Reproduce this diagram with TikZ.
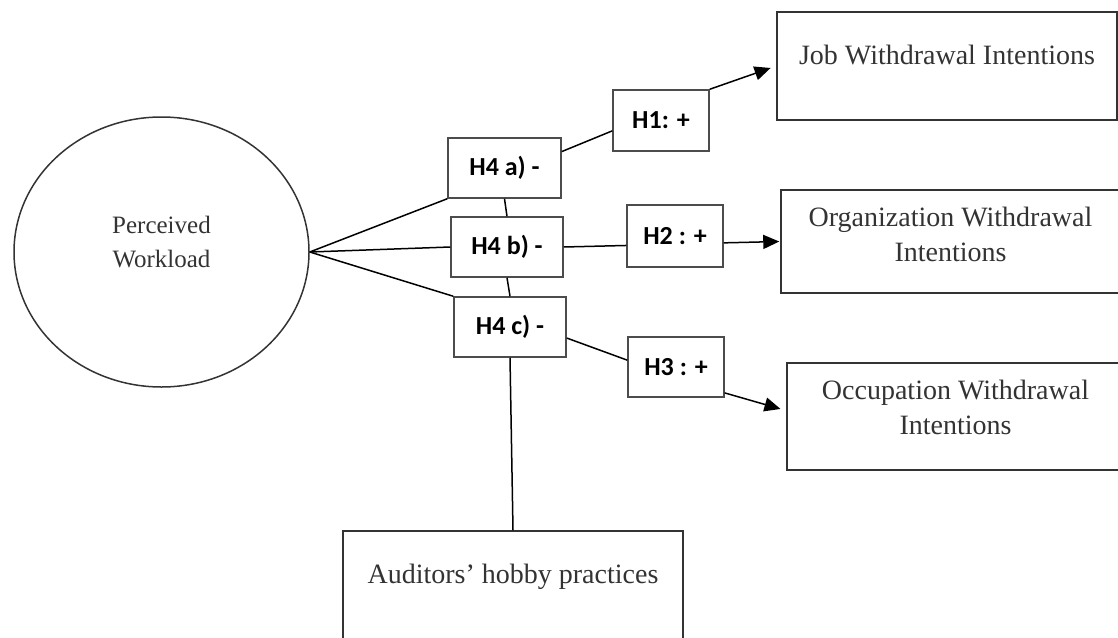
\documentclass[tikz,border=0pt]{standalone}
\usepackage{fontspec}
\setmainfont{Liberation Serif}
\newfontfamily\hypfont{Carlito}
\usetikzlibrary{shapes.geometric,arrows.meta,positioning}

\begin{document}
\begin{tikzpicture}[
                    x=1pt,
                    y=-1pt,
                    line width=1.5pt,
                    construct/.style={draw=black!80, inner sep=0pt, text=black!80,
                                      font=\fontsize{28}{35}\selectfont},
                    hyp/.style={draw=black!70, inner sep=0pt, minimum height=60pt,
                                font=\hypfont\bfseries\fontsize{26}{30}\selectfont},
                    effect/.style={-{Triangle[length=16pt,width=14pt]}, shorten >=6pt}
                ]
                \useasboundingbox (0,0) rectangle (1118,637);

                \node[construct, ellipse, minimum width=295pt, minimum height=270pt,
                      text width=200pt, align=flush center, text height=20pt, text depth=58pt,
                      font=\fontsize{25}{34}\selectfont] (load) at (161.5,252) {Perceived\\Workload};

                \node[hyp, minimum width=113pt] (H4a) at (504.5,168) {H4 a) -};
                \node[hyp, minimum width=112pt] (H4b) at (507,247) {H4 b) -};
                \node[hyp, minimum width=112pt] (H4c) at (510,327) {H4 c) -};
                \node[hyp, minimum width=96pt, minimum height=61pt] (H1) at (661,120.5) {H1: +};
                \node[hyp, minimum width=96pt, minimum height=62pt] (H2) at (675,236) {H2 : +};
                \node[hyp, minimum width=96pt] (H3) at (676,367) {H3 : +};

                \node[construct, minimum width=340pt, text height=52pt, text depth=56pt]
                      (job) at (947,66) {Job Withdrawal Intentions};
                \node[construct, text width=339pt, align=flush center, text height=36pt, text depth=67pt]
                      (org) at (950.5,241.5) {Organization Withdrawal\\Intentions};
                \node[construct, text width=337pt, align=flush center, text height=36pt, text depth=71pt]
                      (occ) at (955.5,416.5) {Occupation Withdrawal\\Intentions};
                \node[construct, minimum width=340pt, text height=52pt, text depth=56pt]
                      (hobby) at (513,585) {Auditors' hobby practices};

                \path
                (load.east) edge (H4a.south west)
                (load.east) edge (H4b.west)
                (load.east) edge (H4c.north west)
                (H4a.south) edge (H4b.north)
                (H4b.south) edge (H4c.north)
                (H4c.south) edge (hobby.north)
                (H4a.16) edge (H1.192)
                (H4b.east) edge (H2.191)
                (H4c.-11) edge (H3.172)
                (H1.north east) edge[effect] (job.west)
                (H2.-8) edge[effect, shorten >=1pt] (org.west)
                (H3.-28) edge[effect] (occ.178)
                ;
            \end{tikzpicture}
\end{document}
